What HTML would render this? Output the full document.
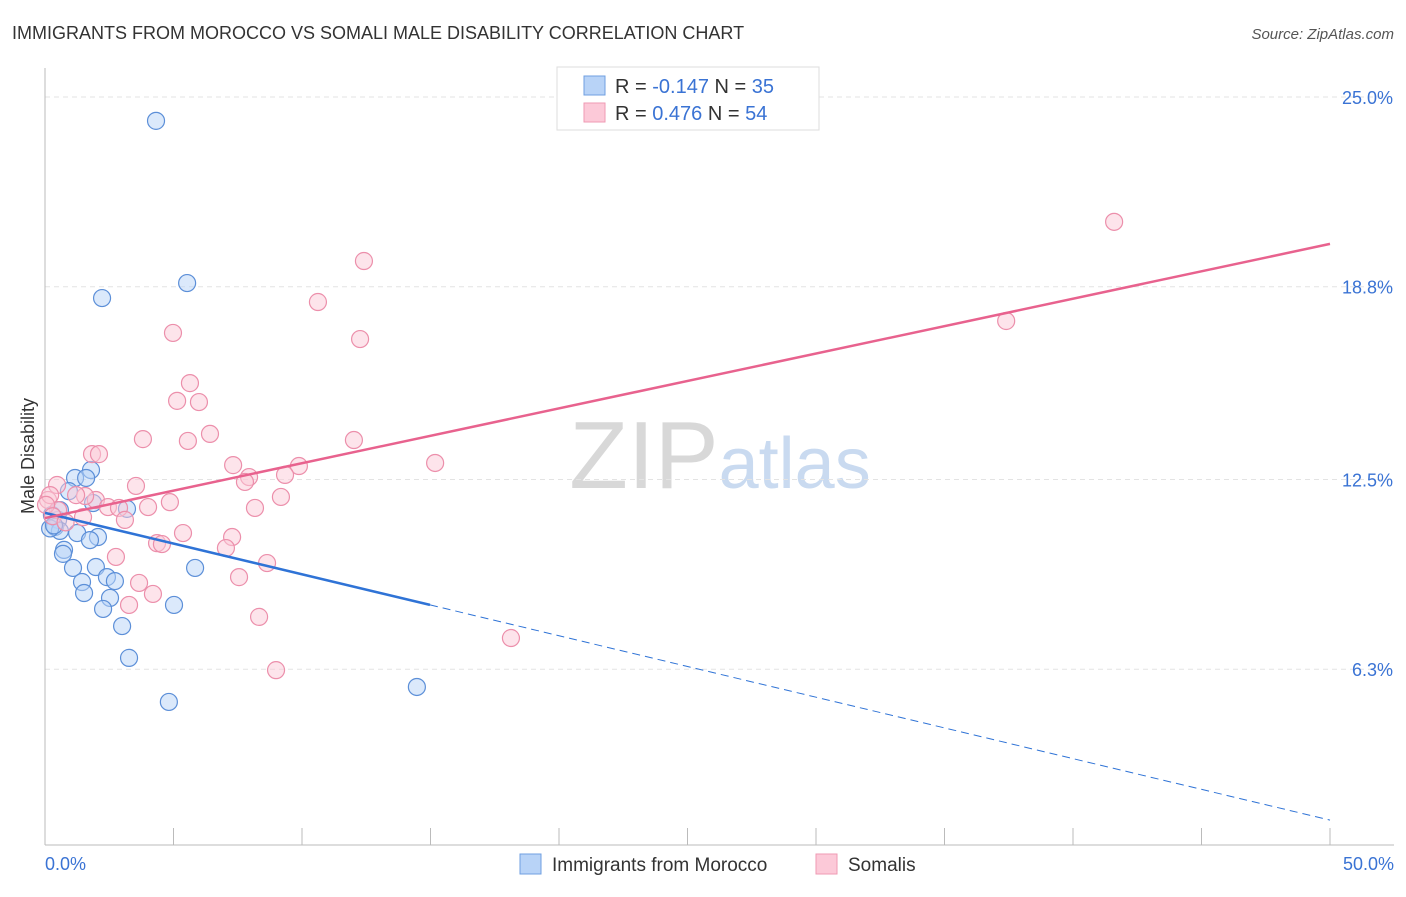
<!DOCTYPE html>
<html><head><meta charset="utf-8"><style>
body{margin:0;background:#fff;font-family:"Liberation Sans",sans-serif}
svg text{font-family:"Liberation Sans",sans-serif}
</style></head><body>
<svg id="chart" width="1406" height="892" xmlns="http://www.w3.org/2000/svg">
<text x="12" y="39" font-size="18" fill="#333">IMMIGRANTS FROM MOROCCO VS SOMALI MALE DISABILITY CORRELATION CHART</text>
<text x="1394" y="39" font-size="15" fill="#555" text-anchor="end" font-style="italic">Source: ZipAtlas.com</text>
<text x="720" y="488" font-size="96" text-anchor="middle" fill="#ddd" font-family="Liberation Serif"><tspan fill="#d8d8d8">ZIP</tspan><tspan fill="#c9daf0" font-family="Liberation Sans" font-size="72">atlas</tspan></text>
<text transform="translate(34,456) rotate(-90)" font-size="18" fill="#333" text-anchor="middle">Male Disability</text>
<g id="grid"></g><g id="axes"></g><g id="marks"></g>
<g>
<rect x="557" y="67" width="262" height="63" fill="#fff" stroke="#ddd"/>
<rect x="584" y="76" width="21" height="19" fill="#b8d3f7" stroke="#6f9fe0"/>
<rect x="584" y="103" width="21" height="19" fill="#fcc9d8" stroke="#ef9ab3"/>
<text x="615" y="93" font-size="20" fill="#333">R = <tspan fill="#3a73d4">-0.147</tspan>   N = <tspan fill="#3a73d4">35</tspan></text>
<text x="615" y="120" font-size="20" fill="#333">R =  <tspan fill="#3a73d4"> 0.476</tspan>   N = <tspan fill="#3a73d4">54</tspan></text>
</g>
<g>
<rect x="520" y="854" width="21" height="20" fill="#b8d3f7" stroke="#6f9fe0"/>
<text x="552" y="871" font-size="19" fill="#333">Immigrants from Morocco</text>
<rect x="816" y="854" width="21" height="20" fill="#fcc9d8" stroke="#ef9ab3"/>
<text x="848" y="871" font-size="19" fill="#333">Somalis</text>
</g>
</svg>
<script>
const yTicks=[25.0,18.8,12.5,6.3];
const yTickLabels=["25.0%","18.8%","12.5%","6.3%"];
const xTickLabels=["0.0%","50.0%"];
const moroccoX=[4.32,5.53,2.22,1.79,1.17,1.60,0.93,1.87,3.19,0.27,0.51,0.39,0.58,1.25,2.06,1.75,0.74,0.70,1.09,1.98,5.84,1.44,2.41,2.72,1.52,2.53,2.26,5.02,3.00,3.27,4.82,14.47,0.58,0.2,0.35];
const moroccoY=[24.22,18.92,18.43,12.81,12.55,12.55,12.12,11.73,11.54,11.34,11.18,10.95,10.82,10.75,10.62,10.52,10.20,10.07,9.61,9.64,9.61,9.15,9.31,9.18,8.79,8.63,8.27,8.40,7.71,6.67,5.23,5.72,11.5,10.9,11.0];
const somaliX=[41.6,37.4,12.41,10.62,12.26,4.98,5.64,5.14,5.99,6.42,3.81,5.56,12.02,1.83,2.10,15.18,7.32,9.88,7.94,7.78,9.34,3.54,0.47,9.18,4.86,1.98,1.56,1.21,4.01,2.45,2.88,8.17,0.12,0.51,1.48,3.11,5.37,7.28,4.36,4.55,7.04,2.76,8.64,7.55,3.66,4.20,3.27,8.33,18.13,8.99,0.2,0.04,0.3,0.8];
const somaliY=[20.92,17.68,19.64,18.30,17.09,17.29,15.65,15.07,15.03,13.99,13.82,13.76,13.79,13.33,13.33,13.04,12.97,12.94,12.58,12.42,12.65,12.29,12.32,11.93,11.76,11.83,11.96,11.99,11.60,11.60,11.57,11.57,11.83,11.50,11.27,11.18,10.75,10.62,10.42,10.39,10.26,9.97,9.77,9.31,9.12,8.76,8.40,8.01,7.32,6.27,11.99,11.67,11.3,11.1];
const moroccoTrend=[11.41,1.37]; const moroccoSolidEnd=14.98;
const somaliTrend=[11.24,20.20];
const NS="http://www.w3.org/2000/svg";
const X=v=>45+v/50*1285, Y=v=>97+(25-v)*30.6;
function mk(t,a,p){const e=document.createElementNS(NS,t);for(const k in a)e.setAttribute(k,a[k]);p.appendChild(e);return e;}
const grid=document.getElementById('grid'),axes=document.getElementById('axes'),marks=document.getElementById('marks');
yTicks.forEach((t,i)=>{
 const l=mk('line',{x1:45,x2:1394,y1:Y(t),y2:Y(t),stroke:'#e3e3e3','stroke-dasharray':'5,4'},grid);
 
 
 const tx=mk('text',{x:1393,y:Y(t)+7,'font-size':18,fill:'#3a73d4','text-anchor':'end'},axes);tx.textContent=yTickLabels[i];
 
 
});
const ax=mk('line',{x1:45,x2:45,y1:68,y2:845,stroke:'#bbb'},axes);


const bx=mk('line',{x1:45,x2:1394,y1:845,y2:845,stroke:'#bbb'},axes);


for(let i=0;i<=10;i++){const t=mk('line',{x1:X(i*5),x2:X(i*5),y1:828,y2:845,stroke:'#bbb'},axes);
 
 }
[[0,'start',45],[50,'end',1394]].forEach((d,i)=>{const t=mk('text',{x:d[2],y:870,'font-size':18,fill:'#3a73d4','text-anchor':d[1]},axes);t.textContent=xTickLabels[i];
 
 });
function pts(xs,ys,fill,stroke,name){xs.forEach((x,i)=>{const c=mk('circle',{cx:X(x),cy:Y(ys[i]),r:8.5,fill:fill,stroke:stroke,'stroke-width':1.2,'fill-opacity':0.5},marks);
 
 });}
pts(moroccoX,moroccoY,'#b8d3f7','#5c8fd8','morocco-point');
pts(somaliX,somaliY,'#fcc9d8','#ec8fab','somali-point');
const tv=(tr,x)=>tr[0]+(tr[1]-tr[0])*x/50;
let l1=mk('line',{x1:X(0),y1:Y(tv(moroccoTrend,0)),x2:X(moroccoSolidEnd),y2:Y(tv(moroccoTrend,moroccoSolidEnd)),stroke:'#2f73d6','stroke-width':2.5},marks);


let l2=mk('line',{x1:X(moroccoSolidEnd),y1:Y(tv(moroccoTrend,moroccoSolidEnd)),x2:X(50),y2:Y(tv(moroccoTrend,50)),stroke:'#2f73d6','stroke-width':1,'stroke-dasharray':'8,5'},marks);


let l3=mk('line',{x1:X(0),y1:Y(tv(somaliTrend,0)),x2:X(50),y2:Y(tv(somaliTrend,50)),stroke:'#e8628e','stroke-width':2.5},marks);


</script>
</body></html>
